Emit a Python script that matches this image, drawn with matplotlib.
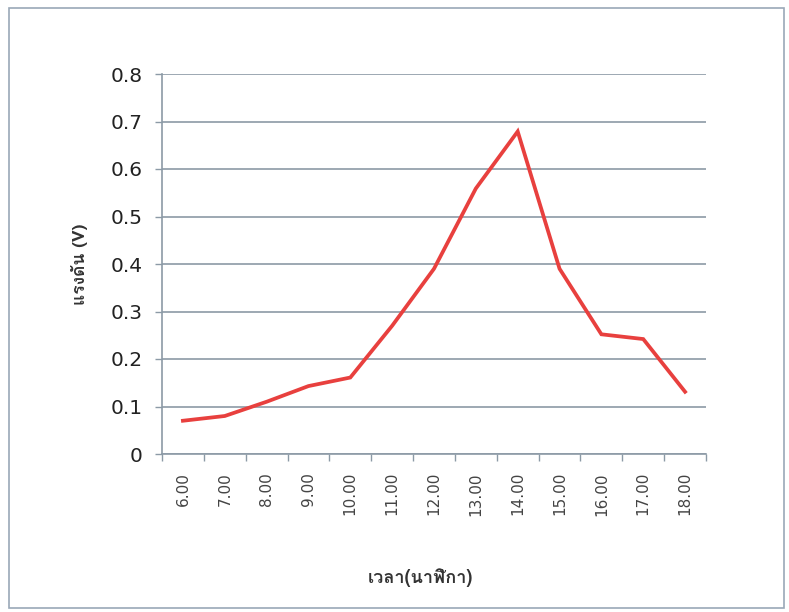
import matplotlib
matplotlib.use('Agg')
import matplotlib.pyplot as plt
from matplotlib import font_manager
from matplotlib.patches import Rectangle
import numpy as np

# data
hours = ['6.00', '7.00', '8.00', '9.00', '10.00', '11.00', '12.00',
         '13.00', '14.00', '15.00', '16.00', '17.00', '18.00']
voltage = [0.07, 0.08, 0.11, 0.143, 0.161, 0.27, 0.39,
           0.559, 0.679, 0.39, 0.252, 0.242, 0.131]
y_ticks = [0, 0.1, 0.2, 0.3, 0.4, 0.5, 0.6, 0.7, 0.8]


# find an installed font that has Thai glyphs
def thai_font():
    try:
        from fontTools.ttLib import TTFont
    except ImportError:
        return None
    for f in font_manager.fontManager.ttflist:
        try:
            tt = TTFont(f.fname, fontNumber=0, lazy=True)
            cmap = tt.getBestCmap()
            if cmap and 0x0E41 in cmap and 0x0E19 in cmap:
                return f.name
        except Exception:
            continue
    return None


tf = thai_font()
fams = ([tf] if tf else []) + ['DejaVu Sans']
plt.rcParams['font.family'] = ['DejaVu Sans']

axis_col = '#8c9aa6'

fig = plt.figure(figsize=(7.89, 6.12), dpi=100)
ax = fig.add_axes([162 / 789, 1 - 454 / 612, (706 - 162) / 789, (454 - 74) / 612])

x = np.arange(len(hours))
ax.plot(x, voltage, color='#e8403e', linewidth=2.7, solid_joinstyle='miter', zorder=3)

ax.set_xlim(-0.5, len(hours) - 0.5)
ax.set_ylim(0, 0.8)
ax.set_yticks(y_ticks)
ax.set_yticklabels(['0' if v == 0 else f'{v:.1f}' for v in y_ticks], fontsize=14.5, color='#222222')

# category labels at centres, tick marks at boundaries
ax.set_xticks(x)
ax.set_xticklabels(hours, rotation=90, fontsize=11, color='#444444')
ax.set_xticks(np.arange(-0.5, len(hours)), minor=True)
ax.tick_params(axis='x', which='major', length=0, pad=13)
ax.tick_params(axis='x', which='minor', length=5, color=axis_col, width=1)
ax.tick_params(axis='y', length=5, color=axis_col, width=1, pad=9)

ax.grid(True, axis='y', color=axis_col, linewidth=1.2)
ax.set_axisbelow(True)
for s in ['top', 'right']:
    ax.spines[s].set_visible(False)
for s in ['left', 'bottom']:
    ax.spines[s].set_color(axis_col)
    ax.spines[s].set_linewidth(1.2)

ax.set_ylabel('แรงดัน (V)', family=fams, fontsize=12.5, fontweight='bold', color='#333333', labelpad=16)
fig.text(0.533, 1 - 578 / 612, 'เวลา(นาฬิกา)', family=fams, fontsize=13, fontweight='bold',
         color='#333333', ha='center', va='center')

# outer chart frame
fig.patches.append(Rectangle((9 / 789, 4 / 612), 775 / 789, 600 / 612, transform=fig.transFigure,
                             fill=False, edgecolor='#9aa8b8', linewidth=1.2))

fig.savefig('out.png', dpi=100)
